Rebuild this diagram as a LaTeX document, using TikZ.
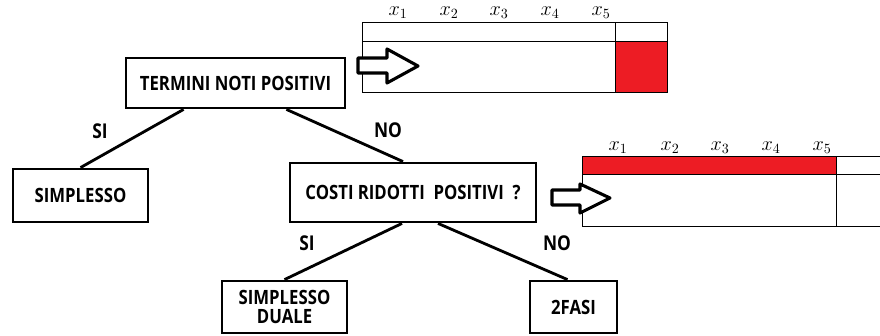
\documentclass[tikz,border=0pt]{standalone}
\usepackage{fontspec}
\newfontfamily\boxfont[FakeStretch=0.85]{Open Sans}
\definecolor{fillred}{RGB}{237,28,36}
\tikzset{
  decision/.style={draw, line width=2pt, font=\boxfont\bfseries\fontsize{14}{15}\selectfont, align=center, inner sep=0pt},
  branch/.style={line width=2pt},
  answer/.style={font=\boxfont\bfseries\fontsize{14.5}{15}\selectfont},
  varlabel/.style={font=\fontsize{14}{15}\selectfont},
  tabline/.style={line width=0.7pt},
  bigarrow/.style={draw, fill=white, line width=2.2pt, line join=round}
}
\begin{document}
\begin{tikzpicture}[x=0.025cm,y=-0.025cm]
\useasboundingbox (0,0) rectangle (880,335);
% tree
\node[decision, minimum width=5.475cm, minimum height=1.25cm] (termini) at (235.5,83) {TERMINI NOTI POSITIVI};
\node[decision, minimum width=3.375cm, minimum height=1.325cm] (simplesso) at (80.5,195.5) {SIMPLESSO};
\node[decision, minimum width=6.15cm, minimum height=1.475cm] (costi) at (413,192.5) {COSTI RIDOTTI~~POSITIVI~~?};
\node[decision, minimum width=3.125cm, minimum height=1.3cm] (duale) at (284.5,307) {SIMPLESSO\\[-2pt]DUALE};
\node[decision, minimum width=2.175cm, minimum height=1.3cm] (fasi) at (573.5,307) {2FASI};
\draw[branch] ([xshift=1.475cm]termini.south west) -- (simplesso.north);
\draw[branch] ([xshift=-1.5cm]termini.south east) -- ([xshift=-0.25cm]costi.north);
\draw[branch] ([xshift=-0.275cm]costi.south) -- (duale.north);
\draw[branch] ([xshift=0.625cm]costi.south) -- ([xshift=-0.15cm]fasi.north);
\node[answer] (si1) at (100,131) {SI};
\node[answer] (no1) at (388,130) {NO};
\node[answer] (si2) at (307,243) {SI};
\node[answer] (no2) at (557,243) {NO};
% top table
\fill[fillred] (615,41) rectangle (667,92);
\draw[tabline] (362,22) rectangle (667,92);
\draw[tabline] (362,41) -- (667,41);
\draw[tabline] (615,22) -- (615,92);
\foreach \i/\xx in {1/398,2/449,3/499,4/550,5/601}
  \node[varlabel] at (\xx,13) {$x_\i$};
\draw[bigarrow] (358,58) -- (387,58) -- (387,49) -- (418,66) -- (387,83) -- (387,73) -- (358,73) -- cycle;
% bottom table
\fill[fillred] (582,156) rectangle (836,174);
\draw[tabline] (880,156) -- (582,156) -- (582,226) -- (880,226);
\draw[tabline] (582,174) -- (880,174);
\draw[tabline] (836,156) -- (836,226);
\foreach \i/\xx in {1/618,2/670,3/720,4/771,5/822}
  \node[varlabel] at (\xx,148) {$x_\i$};
\draw[bigarrow] (552,190) -- (580,190) -- (580,184) -- (610,198) -- (580,213) -- (580,205) -- (552,205) -- cycle;
\end{tikzpicture}
\end{document}
